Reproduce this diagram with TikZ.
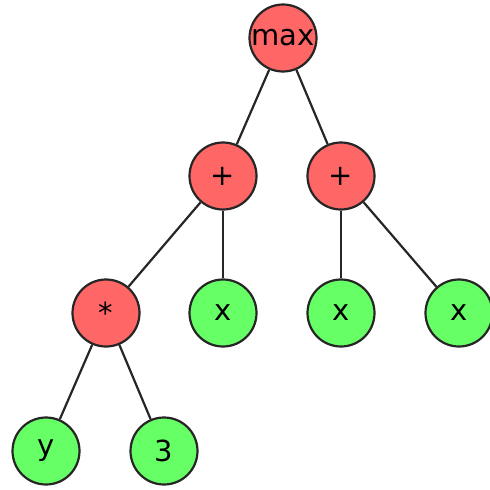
\documentclass[tikz,border=0pt]{standalone}
\usepackage{fontspec}
\setmainfont{DejaVu Sans}
\begin{document}
\begin{tikzpicture}[x=1pt,y=-1pt,
  opnode/.style={circle,draw=black!85,line width=2.2pt,fill=red!60,minimum size=67pt,inner sep=0pt,font=\fontsize{29}{29}\selectfont},
  leafnode/.style={opnode,fill=green!60},
  edge/.style={draw=black!85,line width=2.2pt}]
\useasboundingbox (0,0) rectangle (490,490);
\node[opnode] (max) at (283,38) {max};
\node[opnode] (p1) at (223,176) {+};
\node[opnode] (p2) at (341,176) {+};
\node[opnode] (mul) at (106,313) {*};
\node[leafnode] (x1) at (223,313) {x};
\node[leafnode] (x2) at (341,313) {x};
\node[leafnode] (x3) at (459,313) {x};
\node[leafnode] (y) at (46,451) {y};
\node[leafnode] (three) at (164,451) {3};
\begin{scope}[on background layer/.try]
\end{scope}
\draw[edge] (max) -- (p1);
\draw[edge] (max) -- (p2);
\draw[edge] (p1) -- (mul);
\draw[edge] (p1) -- (x1);
\draw[edge] (p2) -- (x2);
\draw[edge] (p2) -- (x3);
\draw[edge] (mul) -- (y);
\draw[edge] (mul) -- (three);
\end{tikzpicture}
\end{document}
